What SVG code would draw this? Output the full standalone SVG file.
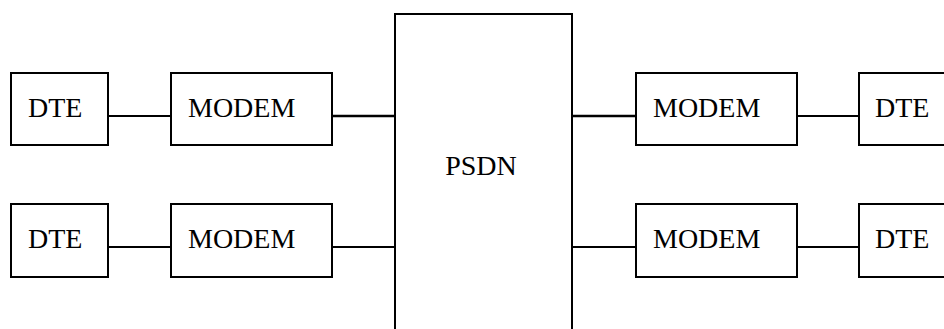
<svg xmlns="http://www.w3.org/2000/svg" width="944" height="329" viewBox="0 0 944 329">
<style>
.box{fill:#fff;stroke:#000;stroke-width:2}
.lbl{font-family:"Liberation Serif","Times New Roman",serif;font-size:28px;fill:#000}
.con{stroke:#000;stroke-width:2;fill:none}
</style>
<rect width="944" height="329" fill="#fff"/>
<g id="connectors">
<line class="con" x1="108" y1="116" x2="171" y2="116"/>
<line class="con" x1="332" y1="116" x2="396" y2="116" style="stroke-width:2.5"/>
<line class="con" x1="108" y1="247" x2="171" y2="247"/>
<line class="con" x1="332" y1="247" x2="396" y2="247"/>
<line class="con" x1="572" y1="116" x2="636" y2="116" style="stroke-width:2.5"/>
<line class="con" x1="797" y1="116" x2="859" y2="116"/>
<line class="con" x1="572" y1="247" x2="636" y2="247"/>
<line class="con" x1="797" y1="247" x2="859" y2="247"/>
</g>
<g id="psdn">
<rect class="box" x="395" y="14" width="177" height="330"/>
<text class="lbl" x="481" y="175" text-anchor="middle">PSDN</text>
</g>
<g id="dte-l1">
<rect class="box" x="11" y="73" width="97" height="72"/>
<text class="lbl" x="28" y="117">DTE</text>
</g>
<g id="modem-l1">
<rect class="box" x="171" y="73" width="161" height="72"/>
<text class="lbl" x="188" y="117">MODEM</text>
</g>
<g id="dte-l2">
<rect class="box" x="11" y="204" width="97" height="73"/>
<text class="lbl" x="28" y="248">DTE</text>
</g>
<g id="modem-l2">
<rect class="box" x="171" y="204" width="161" height="73"/>
<text class="lbl" x="188" y="248">MODEM</text>
</g>
<g id="modem-r1">
<rect class="box" x="636" y="73" width="161" height="72"/>
<text class="lbl" x="653" y="117">MODEM</text>
</g>
<g id="dte-r1">
<rect class="box" x="859" y="73" width="97" height="72"/>
<text class="lbl" x="875" y="117">DTE</text>
</g>
<g id="modem-r2">
<rect class="box" x="636" y="204" width="161" height="73"/>
<text class="lbl" x="653" y="248">MODEM</text>
</g>
<g id="dte-r2">
<rect class="box" x="859" y="204" width="97" height="73"/>
<text class="lbl" x="875" y="248">DTE</text>
</g>
</svg>
